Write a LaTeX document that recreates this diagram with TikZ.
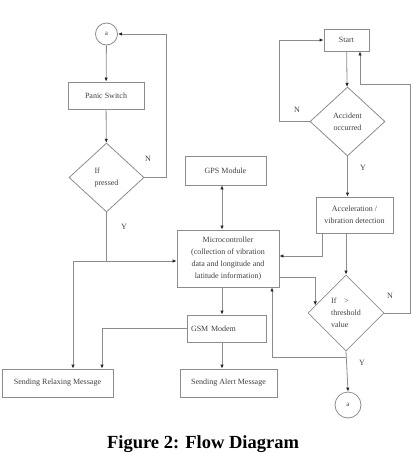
\documentclass[tikz,border=0pt]{standalone}
\usepackage{fontspec}
\setmainfont{Liberation Serif}[BoldFont={Liberation Serif Bold}]
\usetikzlibrary{shapes.geometric,arrows.meta}
\begin{document}
\begin{tikzpicture}[x=1pt,y=-1pt,
  line/.style={draw=black!45, line width=0.8pt},
  arr/.style={line, -{Latex[length=4pt,width=3.5pt,color=black!85]}},
  darr/.style={line, {Latex[length=4pt,width=3.5pt,color=black!85]}-{Latex[length=4pt,width=3.5pt,color=black!85]}},
  box/.style={draw=black!45, line width=0.8pt, rectangle, inner sep=2pt, align=center, text=black!75, font=\fontsize{8}{12}\selectfont},
  dia/.style={draw=black!45, line width=0.8pt, diamond, inner sep=0pt, text=black!75, font=\fontsize{8}{12}\selectfont},
  conn/.style={draw=black!45, line width=0.8pt, circle, inner sep=0pt, text=black!75, font=\fontsize{7}{8}\selectfont},
  lbl/.style={text=black!75, font=\fontsize{8}{10}\selectfont, inner sep=0pt}
]
\useasboundingbox (0,0) rectangle (413,453);
\clip (0,0) rectangle (413,453);

% left column
\node[conn, minimum size=22pt] (c1) at (106.5,34) {a};
\node[box, minimum width=76pt, minimum height=27pt] (panic) at (106,95.5) {Panic Switch};
\node[dia, minimum width=75pt, minimum height=69pt, align=left] (d1) at (106.5,177.5) {If\\pressed};
\node[box, minimum width=111pt, minimum height=28pt] (relax) at (57.5,383) {Sending Relaxing Message};

% middle column
\node[box, minimum width=81pt, minimum height=29pt] (gps) at (225.5,170.5) {GPS Module};
\node[box, minimum width=102pt, minimum height=57pt] (micro) at (228,258.5) {Microcontroller\\(collection of vibration\\data and longitude and\\latitude information)};
\node[box, minimum width=79pt, minimum height=27pt, text width=71pt, align=left, inner xsep=4pt] (gsm) at (226.5,328.5) {GSM Modem};
\node[box, minimum width=97pt, minimum height=28pt] (alert) at (228.5,383) {Sending Alert Message};

% right column
\node[box, minimum width=45pt, minimum height=22pt] (start) at (346.5,40) {Start};
\node[dia, minimum width=75pt, minimum height=69pt, align=center] (d2) at (347.5,121.5) {Accident\\occurred};
\node[box, minimum width=77pt, minimum height=36pt] (accel) at (354.5,215) {Acceleration /\\vibration detection};
\node[dia, minimum width=76pt, minimum height=76pt, align=left] (d3) at (346,313) {If\ \ \ \ >\\threshold\\value};
\node[conn, minimum size=26pt] (c2) at (348,405) {a};

% junction coordinates
\coordinate (j1) at (106.5,261);
\coordinate (j2) at (73,261);
\coordinate (n1) at (166,34);
\coordinate (g1) at (102,328.5);
\coordinate (xm) at (222,0);
\coordinate (s1) at (279,40);
\coordinate (a1) at (322,256);
\coordinate (r1) at (410,84);
\coordinate (r2) at (360,84);
\coordinate (b1) at (346,357);
\coordinate (b2) at (272,357);

% left connectors
\draw[arr] (c1) -- (panic);
\draw[arr] (panic) -- (d1);
\draw[arr] (d1.east) -| (n1) -- (c1.east);
\draw[line] (d1.south) -- (j1);
\draw[line] (j1) -- (j2);
\draw[arr] (j1) -- (micro.west |- j1);
\draw[arr] (j2) -- (relax.north -| j2);

% middle connectors
\draw[darr] (gps.south -| xm) -- (micro.north -| xm);
\draw[arr] (micro.south -| xm) -- (gsm.north -| xm);
\draw[arr] (gsm.south -| xm) -- (alert.north -| xm);
\draw[arr] (gsm.west) -- (g1) -- (relax.north -| g1);

% right connectors
\draw[arr] (start) -- (d2);
\draw[arr] (d2.west) -| (s1) -- (start.west);
\draw[arr] (d2) -- (accel.north -| d2);
\draw[arr] (accel.south -| a1) -- (a1) -- (micro.east |- a1);
\draw[arr] (accel.south -| d3) -- (d3.north);
\draw[arr] ([yshift=-18.5pt]micro.east) -| (d3.166);
\draw[arr] (d3.east) -| (r1) -- (r2) -- (start.south -| r2);
\draw[arr] (d3.south) -- (c2.north);
\draw[arr] (b1) -- (b2) -- (micro.south -| b2);

% labels
\node[lbl] (ln1) at (148,159) {N};
\node[lbl] (ly1) at (124,227) {Y};
\node[lbl] (ln2) at (297,110) {N};
\node[lbl] (ly2) at (363,168) {Y};
\node[lbl] (ln3) at (390,296) {N};
\node[lbl] (ly3) at (362,363) {Y};

% caption
\node[anchor=base, inner sep=0pt, font=\bfseries\fontsize{18.5}{22}\selectfont] (cap) at (203,448) {Figure 2: Flow Diagram};
\end{tikzpicture}
\end{document}
